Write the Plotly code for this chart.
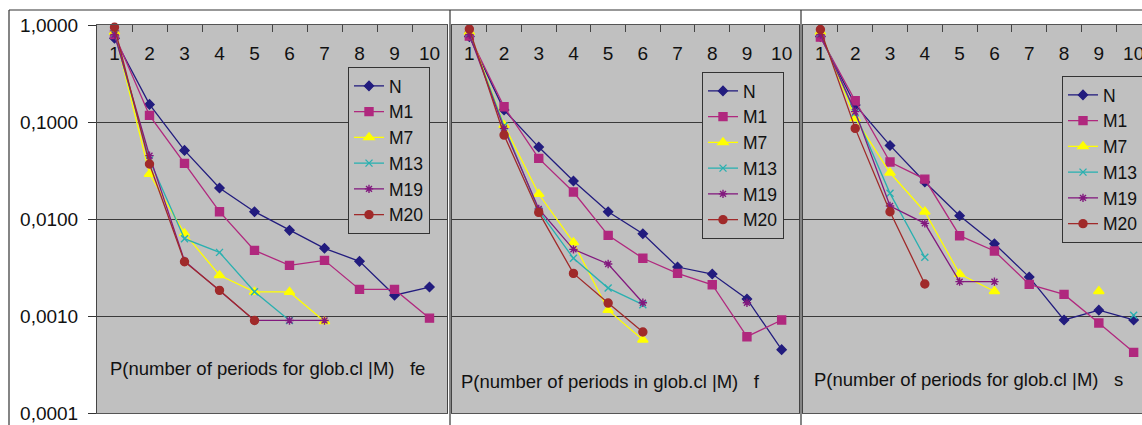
import plotly.graph_objects as go

# Number of periods (category axis)
periods = [str(i) for i in range(1, 11)]

# Panel 1: P(number of periods for glob.cl |M)  fe
fe_N = [0.73, 0.152, 0.051, 0.0209, 0.0119, 0.00764, 0.00499, 0.00366, 0.00164, 0.00199]
fe_M1 = [0.80, 0.117, 0.0375, 0.0119, 0.00475, 0.00333, 0.00375, 0.00188, 0.00188, 0.00095]
fe_M7 = [0.85, 0.0291, 0.00711, 0.00263, 0.00177, 0.00177, 0.00088, None, None, None]
fe_M13 = [0.82, 0.0406, 0.00627, 0.00453, 0.00178, 0.0009, None, None, None, None]
fe_M19 = [0.80, 0.045, 0.0037, 0.00184, 0.0009, 0.0009, 0.0009, None, None, None]
fe_M20 = [0.95, 0.0369, 0.00363, 0.00184, 0.0009, None, None, None, None, None]

# Panel 2: P(number of periods in glob.cl |M)  f
f_N = [0.76, 0.133, 0.0552, 0.0247, 0.0119, 0.00706, 0.0032, 0.00271, 0.0015, 0.00045]
f_M1 = [0.77, 0.144, 0.0422, 0.019, 0.00679, 0.00394, 0.00275, 0.0021, 0.000612, 0.00091]
f_M7 = [0.85, 0.093, 0.0181, 0.00575, 0.00115, 0.00057, None, None, None, None]
f_M13 = [0.82, 0.091, 0.0122, 0.00394, 0.00194, 0.00131, None, None, None, None]
f_M19 = [0.80, 0.086, 0.0127, 0.00487, 0.00344, 0.00137, None, None, 0.00137, None]
f_M20 = [0.91, 0.0734, 0.0117, 0.00275, 0.00136, 0.000684, None, None, None, None]

# Panel 3: P(number of periods for glob.cl |M)  s
s_N = [0.76, 0.15, 0.0574, 0.0241, 0.0108, 0.00557, 0.00252, 0.00091, 0.00115, 0.00091]
s_M1 = [0.75, 0.166, 0.0387, 0.0258, 0.00673, 0.00468, 0.00212, 0.00167, 0.000847, 0.000422]
s_M7 = [0.85, 0.109, 0.030, 0.0119, 0.00271, 0.0018, None, None, 0.0018, None]
s_M13 = [0.82, 0.125, 0.0184, 0.00403, None, None, None, None, None, 0.00102]
s_M19 = [0.80, 0.128, 0.0136, 0.00902, 0.00226, 0.00226, None, None, None, None]
s_M20 = [0.90, 0.086, 0.0119, 0.00214, None, None, None, None, None, None]

series_names = ["N", "M1", "M7", "M13", "M19", "M20"]
panel_titles = [
    "P(number of periods for glob.cl |M)\u00a0\u00a0\u00a0fe",
    "P(number of periods in glob.cl |M)\u00a0\u00a0\u00a0f",
    "P(number of periods for glob.cl |M)\u00a0\u00a0\u00a0s",
]
y_tick_vals = [1, 0.1, 0.01, 0.001, 0.0001]
y_tick_text = ["1,0000", "0,1000", "0,0100", "0,0010", "0,0001"]

panels = [
    [fe_N, fe_M1, fe_M7, fe_M13, fe_M19, fe_M20],
    [f_N, f_M1, f_M7, f_M13, f_M19, f_M20],
    [s_N, s_M1, s_M7, s_M13, s_M19, s_M20],
]

styles = {
    "N": dict(color="#221C7E", symbol="diamond", size=7),
    "M1": dict(color="#B0287E", symbol="square", size=8),
    "M7": dict(color="#FFFF00", symbol="triangle-up", size=9),
    "M13": dict(color="#2AB0B0", symbol="x-thin-open", size=7),
    "M19": dict(color="#82197E", symbol="asterisk-open", size=7),
    "M20": dict(color="#A02A2A", symbol="circle", size=8),
}

W, H = 1142, 425
FONT = "Arial, Liberation Sans, sans-serif"
GRAY = "#C0C0C0"

# pixel extents of the three plot areas
x_px = [(97, 447), (452, 799), (803, 1142)]
x_ranges = [[-0.5, 9.5], [-0.5, 9.5], [-0.5, 9.24]]
y_dom = [1 - 413 / H, 1 - 25 / H]
legend_pos = [(348, 67), (702, 72), (1062, 76)]
title_pos = [(108, 368), (459, 381), (812, 379)]

fig = go.Figure()
for p, data in enumerate(panels):
    sfx = "" if p == 0 else str(p + 1)
    leg = "legend" + sfx
    for name, vals in zip(series_names, data):
        st = styles[name]
        fig.add_trace(go.Scatter(
            x=periods, y=vals, name=name, mode="lines+markers",
            xaxis="x" + sfx, yaxis="y" + sfx, legend=leg,
            line=dict(color=st["color"], width=1.3),
            marker=dict(color=st["color"], symbol=st["symbol"], size=st["size"],
                        line=dict(color=st["color"], width=1.4)),
            cliponaxis=False, connectgaps=False,
        ))

    x0, x1 = x_px[p]
    fig.update_layout({
        "xaxis" + sfx: dict(
            type="category", categoryorder="array", categoryarray=periods,
            domain=[x0 / W, x1 / W], range=x_ranges[p], anchor="y" + sfx,
            side="top", ticks="inside", tickson="boundaries", ticklen=7,
            tickcolor="#444", ticklabelposition="inside", ticklabelstandoff=16,
            ticklabeloverflow="allow",
            showline=True, linecolor="#555", linewidth=1, mirror=True,
            showgrid=False, zeroline=False, automargin=False,
            tickfont=dict(family=FONT, size=19, color="#111"),
        ),
        "yaxis" + sfx: dict(
            type="log", range=[-4, 0.0005], domain=y_dom, anchor="x" + sfx,
            tickvals=y_tick_vals, ticktext=y_tick_text,
            showticklabels=(p == 0), ticks="outside" if p == 0 else "",
            ticklen=8, tickcolor="#333", ticklabelstandoff=6,
            ticklabeloverflow="allow",
            showgrid=True, gridcolor="#3A3A3A", gridwidth=1,
            showline=True, linecolor="#444", linewidth=1, mirror=True,
            zeroline=False, automargin=False,
            tickfont=dict(family=FONT, size=19, color="#111"),
        ),
        leg: dict(
            x=legend_pos[p][0] / W, y=1 - legend_pos[p][1] / H,
            xanchor="left", yanchor="top", xref="paper", yref="paper",
            bgcolor=GRAY, bordercolor="#333", borderwidth=1,
            font=dict(family=FONT, size=17.5, color="#111"),
            itemwidth=30,
        ),
    })
    fig.add_annotation(
        x=title_pos[p][0] / W, y=1 - title_pos[p][1] / H, xref="paper", yref="paper",
        xanchor="left", yanchor="middle", showarrow=False, text=panel_titles[p],
        font=dict(family=FONT, size=18.5, color="#111"),
    )

# chart-area frames
frame = dict(type="line", xref="paper", yref="paper", line=dict(color="#333", width=1.2))
fig.add_shape(**frame, x0=9 / W, x1=1, y0=1 - 10 / H, y1=1 - 10 / H)
for xp in (9, 450, 801):
    fig.add_shape(**frame, x0=xp / W, x1=xp / W, y0=0, y1=1 - 10 / H)

fig.update_layout(
    width=W, height=H, margin=dict(l=0, r=0, t=0, b=0, autoexpand=False),
    paper_bgcolor="white", plot_bgcolor=GRAY, showlegend=True,
    font=dict(family=FONT),
)

fig.write_html("out.html")
